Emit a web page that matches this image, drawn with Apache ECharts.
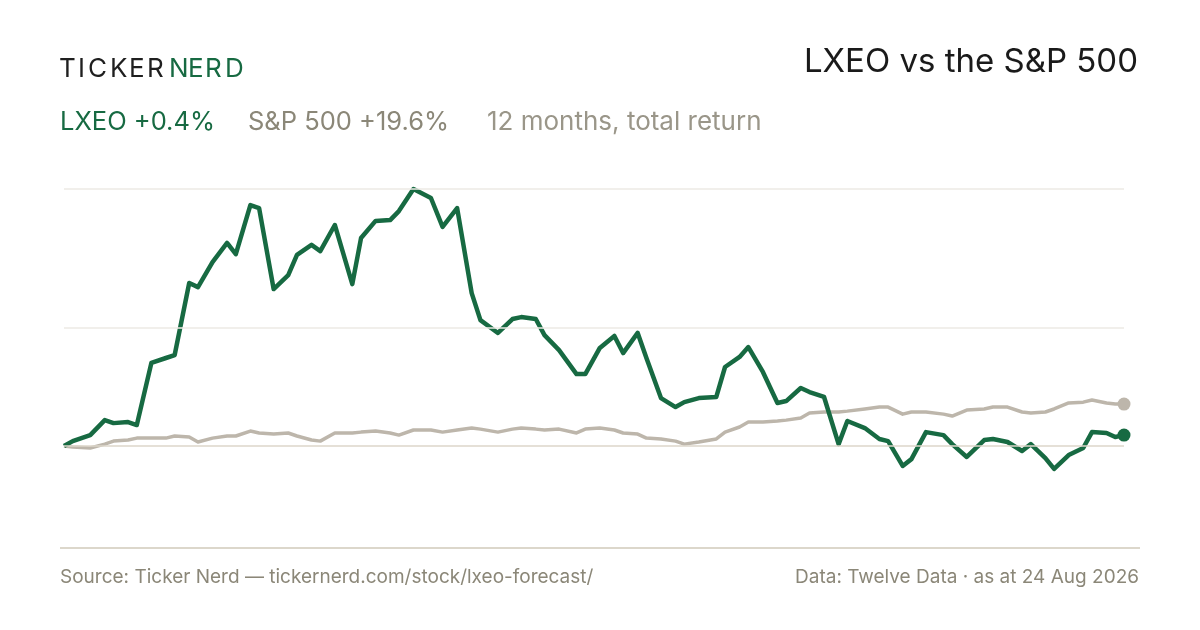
<!DOCTYPE html>
<html>
<head>
<meta charset="utf-8">
<title>LXEO vs the S&amp;P 500</title>
<script src="https://cdn.jsdelivr.net/npm/echarts/dist/echarts.min.js"></script>
<style>
	html, body { margin: 0; padding: 0; background: #fff; }
	#main { width: 1200px; height: 630px; }
</style>
</head>
<body>
<div id="main"></div>
<script>
// sampled every 3rd trading day, last point is the latest close
var dates = ['2025-08-25', '2025-08-28', '2025-09-03', '2025-09-08', '2025-09-11', '2025-09-16', '2025-09-19', '2025-09-24', '2025-09-29', '2025-10-02',
	'2025-10-07', '2025-10-10', '2025-10-15', '2025-10-20', '2025-10-23', '2025-10-28', '2025-10-31', '2025-11-05', '2025-11-10', '2025-11-13',
	'2025-11-18', '2025-11-21', '2025-11-26', '2025-12-02', '2025-12-05', '2025-12-10', '2025-12-15', '2025-12-18', '2025-12-23', '2025-12-29',
	'2026-01-02', '2026-01-07', '2026-01-12', '2026-01-15', '2026-01-21', '2026-01-26', '2026-01-29', '2026-02-03', '2026-02-06', '2026-02-11',
	'2026-02-17', '2026-02-20', '2026-02-25', '2026-03-02', '2026-03-05', '2026-03-10', '2026-03-13', '2026-03-18', '2026-03-23', '2026-03-26',
	'2026-03-31', '2026-04-06', '2026-04-09', '2026-04-14', '2026-04-17', '2026-04-22', '2026-04-27', '2026-04-30', '2026-05-05', '2026-05-08',
	'2026-05-13', '2026-05-18', '2026-05-21', '2026-05-27', '2026-06-01', '2026-06-04', '2026-06-09', '2026-06-12', '2026-06-17', '2026-06-23',
	'2026-06-26', '2026-07-01', '2026-07-07', '2026-07-10', '2026-07-15', '2026-07-20', '2026-07-23', '2026-07-28', '2026-07-31', '2026-08-05',
	'2026-08-10', '2026-08-13', '2026-08-18', '2026-08-21', '2026-08-24'];

// total return since start, %
var lxeo = [0, 2.3, 5.1, 12.1, 10.7, 11.2, 9.8, 38.8, 41.1, 42.5,
	76.1, 74.2, 85.9, 94.8, 89.6, 112.5, 111.1, 73.3, 79.8, 89.2,
	93.9, 91.0, 103.2, 75.6, 97.1, 105.1, 105.5, 109.7, 120.0, 115.8,
	102.3, 111.1, 71.4, 58.8, 52.8, 59.3, 60.2, 59.3, 51.8, 44.8,
	33.6, 33.6, 45.8, 51.4, 43.4, 52.8, 41.1, 22.4, 18.2, 20.5,
	22.4, 22.9, 36.9, 41.6, 46.2, 34.6, 20.1, 21.0, 27.1, 25.2,
	22.9, 0.9, 11.7, 8.4, 3.3, 2.3, -9.3, -6.1, 6.5, 5.1,
	0.9, -5.1, 2.8, 3.3, 1.9, -2.3, 0.9, -5.6, -10.7, -4.2,
	-0.9, 6.5, 6.1, 4.2, 5.1];

var spx = [0, -0.5, -0.9, 0.9, 2.3, 2.8, 3.7, 3.7, 3.7, 4.7,
	4.2, 1.9, 3.7, 4.7, 4.7, 7.0, 6.1, 5.6, 6.1, 4.7,
	2.8, 2.3, 6.1, 6.1, 6.5, 7.0, 6.1, 5.1, 7.5, 7.5,
	6.5, 7.5, 8.4, 7.9, 6.5, 7.9, 8.4, 7.9, 7.5, 7.9,
	6.1, 7.9, 8.4, 7.5, 6.1, 5.6, 3.7, 3.3, 2.3, 0.9,
	1.9, 3.3, 6.5, 8.9, 11.2, 11.2, 11.7, 12.1, 13.1, 15.4,
	15.9, 15.9, 16.3, 17.3, 18.2, 18.2, 14.9, 15.9, 15.9, 14.9,
	14.0, 16.8, 17.3, 18.2, 18.2, 15.9, 15.4, 15.9, 17.3, 20.1,
	20.5, 21.5, 20.1, 19.6, 19.6];

var gridValues = [55, 120];

var GREEN = '#176a42';
var SAND = '#bdb6ab';
var MUTED = '#8b8778';
var FONT = 'Inter, "Noto Sans", sans-serif';

function pairs(vals) {
	return vals.map(function(v, i) {
		return [dates[i], v];
	});
}

function endDot(v, p) {
	return p.dataIndex === dates.length - 1 ? 13 : 0;
}

// wordmark, spaced out letter by letter
var logo = 'TICKERNERD'.split('');
var logoX = [59, 78, 88, 110, 129, 147, 169, 188, 205, 225];
var logoText = logo.map(function(ch, i) {
	return {
		type: 'text',
		left: logoX[i],
		top: 56,
		style: {
			text: ch,
			font: '400 26px ' + FONT,
			fill: i < 6 ? '#1f1f1f' : GREEN
		}
	};
});

var chart = echarts.init(document.getElementById('main'));
chart.setOption({
	backgroundColor: '#fff',
	animation: false,
	grid: {
		left: 64,
		right: 76,
		top: 189,
		bottom: 82
	},
	xAxis: {
		type: 'time',
		min: dates[0],
		max: dates[dates.length - 1],
		show: false
	},
	yAxis: {
		type: 'value',
		min: -47.6,
		max: 120,
		show: false,
		splitLine: {
			show: false
		}
	},
	graphic: logoText.concat([{
		type: 'text',
		right: 62,
		top: 46,
		style: {
			text: 'LXEO vs the S&P 500',
			font: '400 33px ' + FONT,
			fill: '#1a1a1a'
		}
	}, {
		type: 'text',
		left: 60,
		top: 109,
		style: {
			text: 'LXEO +0.4%',
			font: '400 25.5px ' + FONT,
			fill: GREEN
		}
	}, {
		type: 'text',
		left: 248,
		top: 109,
		style: {
			text: 'S&P 500 +19.6%',
			font: '400 25.5px ' + FONT,
			fill: MUTED
		}
	}, {
		type: 'text',
		left: 487,
		top: 109,
		style: {
			text: '12 months, total return',
			font: '400 26px ' + FONT,
			fill: '#9a9689'
		}
	}, {
		type: 'line',
		shape: { x1: 60, y1: 548, x2: 1140, y2: 548 },
		style: { stroke: '#dcd7cb', lineWidth: 2 }
	}, {
		type: 'text',
		left: 60,
		top: 568,
		style: {
			text: 'Source: Ticker Nerd \u2014 tickernerd.com/stock/lxeo-forecast/',
			font: '400 19px ' + FONT,
			fill: MUTED
		}
	}, {
		type: 'text',
		right: 61,
		top: 568,
		style: {
			text: 'Data: Twelve Data \u00b7 as at 24 Aug 2026',
			font: '400 19px ' + FONT,
			fill: MUTED
		}
	}]),
	series: [{
		name: 'S&P 500',
		type: 'line',
		data: pairs(spx),
		clip: false,
		symbol: 'circle',
		showAllSymbol: true,
		symbolSize: endDot,
		itemStyle: { color: SAND },
		lineStyle: { color: SAND, width: 3.5, join: 'round' },
		z: 2,
		markLine: {
			silent: true,
			symbol: 'none',
			label: { show: false },
			data: gridValues.map(function(v) {
				return { yAxis: v, lineStyle: { color: '#eceae4', width: 1.5, type: 'solid' } };
			}).concat([{ yAxis: 0, lineStyle: { color: '#dcd6ca', width: 1.5, type: 'solid' } }])
		}
	}, {
		name: 'LXEO',
		type: 'line',
		data: pairs(lxeo),
		clip: false,
		symbol: 'circle',
		showAllSymbol: true,
		symbolSize: endDot,
		itemStyle: { color: GREEN },
		lineStyle: { color: GREEN, width: 4.5, join: 'round' },
		z: 3
	}]
});
</script>
</body>
</html>
